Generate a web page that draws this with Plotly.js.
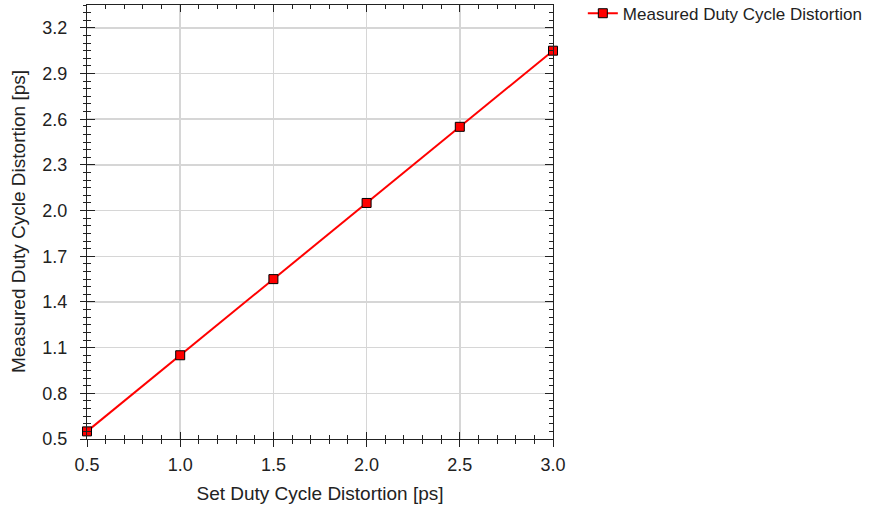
<!DOCTYPE html>
<html><head><meta charset="utf-8">
<script src="https://cdn.plot.ly/plotly-3.0.1.min.js"></script>
<style>html,body{margin:0;padding:0;background:#fff}#chart{width:886px;height:507px}</style>
</head><body><div id="chart"></div>
<script>
const setDistortion = [0.5, 1.0, 1.5, 2.0, 2.5, 3.0];
const measuredDistortion = [0.55, 1.05, 1.55, 2.05, 2.55, 3.05];
const seriesName = 'Measured Duty Cycle Distortion';
const xTitle = 'Set Duty Cycle Distortion [ps]';
const yTitle = 'Measured Duty Cycle Distortion [ps]';
const xTickVals = [0.5, 1.0, 1.5, 2.0, 2.5, 3.0];
const xTickText = ['0.5', '1.0', '1.5', '2.0', '2.5', '3.0'];
const yTickVals = [0.5, 0.8, 1.1, 1.4, 1.7, 2.0, 2.3, 2.6, 2.9, 3.2];
const yTickText = ['0.5', '0.8', '1.1', '1.4', '1.7', '2.0', '2.3', '2.6', '2.9', '3.2'];

const font = {family: 'Liberation Sans, Arial, sans-serif', size: 18, color: '#222'};
const trace = {
  x: setDistortion, y: measuredDistortion, name: seriesName,
  type: 'scatter', mode: 'lines+markers',
  line: {color: '#ff0000', width: 2},
  marker: {symbol: 'square', size: 9, color: '#ff0000', line: {color: '#000', width: 1}},
  cliponaxis: false, showlegend: true
};
const dummy = {x: [0.5], y: [0.5], xaxis: 'x2', yaxis: 'y2', mode: 'none', showlegend: false, hoverinfo: 'skip'};
const xr = [0.5, 3.0], yr = [0.5, 3.35];
const layout = {
  width: 886, height: 507,
  margin: {l: 87, r: 333, t: 5, b: 68, autoexpand: false},
  paper_bgcolor: '#fff', plot_bgcolor: '#fff',
  font: font,
  showlegend: true,
  legend: {x: 1.064, y: 0.98, xanchor: 'left', yanchor: 'middle', font: {size: 17, color: '#222'}, bgcolor: 'rgba(0,0,0,0)'},
  annotations: [{
    text: yTitle, textangle: -90, xref: 'paper', yref: 'paper',
    x: -0.148, y: 0.5, xanchor: 'center', yanchor: 'middle', showarrow: false,
    font: {size: 19, color: '#222'}
  }],
  xaxis: {
    range: xr, tickvals: xTickVals, ticktext: xTickText, automargin: false,
    showgrid: true, gridcolor: '#d6d6d6', gridwidth: 1.5,
    ticks: 'outside', ticklen: 7, tickcolor: '#222', tickwidth: 1,
    showline: true, linecolor: '#222', linewidth: 1, zeroline: false,
    minor: {dtick: 0.1, tick0: 0.5, ticks: 'outside', ticklen: 4, tickcolor: '#222', showgrid: false},
    title: {text: xTitle, font: {size: 19}, standoff: 13},
    tickfont: {size: 18}, ticklabelstandoff: 2
  },
  yaxis: {
    range: yr, tickvals: yTickVals, ticktext: yTickText, automargin: false,
    showgrid: true, gridcolor: '#d6d6d6', gridwidth: 1.5,
    ticks: 'outside', ticklen: 6, tickcolor: '#222', tickwidth: 1,
    showline: true, linecolor: '#222', linewidth: 1, zeroline: false,
    minor: {dtick: 0.05, tick0: 0.5, ticks: 'outside', ticklen: 3, tickcolor: '#222', showgrid: false},
    tickfont: {size: 18}, ticklabelstandoff: 9
  },
  xaxis2: {
    overlaying: 'x', matches: 'x', range: xr, tickvals: xTickVals, showticklabels: false, automargin: false,
    showgrid: false, zeroline: false, showline: true, mirror: 'ticks', linecolor: '#222',
    ticks: 'inside', ticklen: 7, tickcolor: '#222',
    minor: {dtick: 0.1, tick0: 0.5, ticks: 'inside', ticklen: 4, tickcolor: '#222', showgrid: false}
  },
  yaxis2: {
    overlaying: 'y', matches: 'y', range: yr, tickvals: yTickVals, showticklabels: false, automargin: false,
    showgrid: false, zeroline: false, showline: true, mirror: 'ticks', linecolor: '#222',
    ticks: 'inside', ticklen: 8, tickcolor: '#222',
    minor: {dtick: 0.05, tick0: 0.5, ticks: 'inside', ticklen: 4, tickcolor: '#222', showgrid: false}
  }
};
Plotly.newPlot('chart', [dummy, trace], layout, {displayModeBar: false, staticPlot: true});
</script></body></html>
